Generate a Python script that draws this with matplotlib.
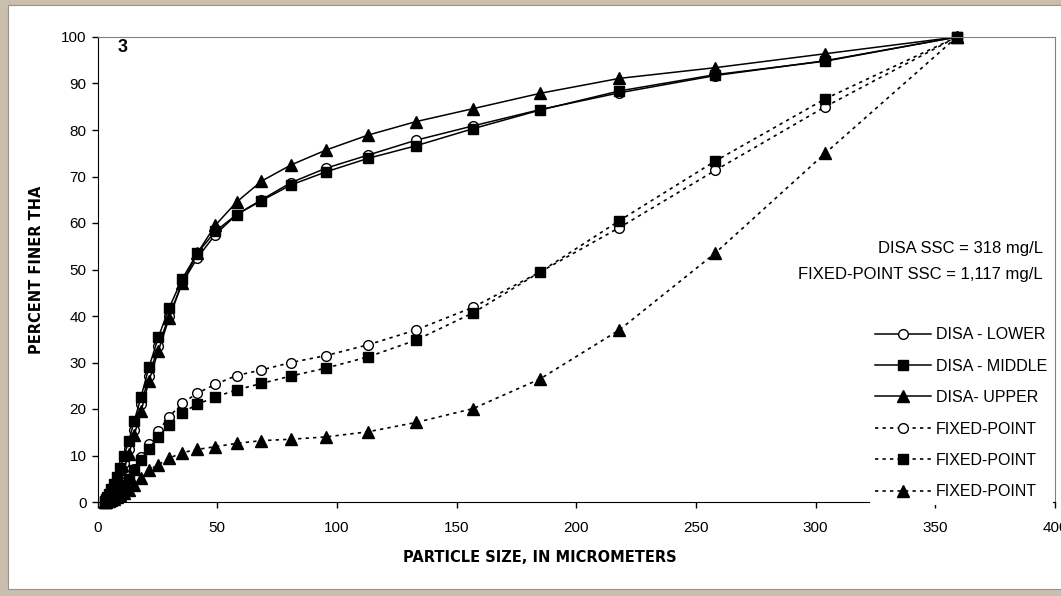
import matplotlib.pyplot as plt
from matplotlib.patches import Rectangle

plt.rcParams["font.family"] = ["Liberation Sans", "DejaVu Sans"]

# particle size bins, micrometers
sizes = [2.95, 3.48, 4.11, 4.85, 5.72, 6.75, 7.97, 9.40, 11.1, 13.1,
         15.4, 18.2, 21.5, 25.4, 29.9, 35.3, 41.7, 49.2, 58.1, 68.5,
         80.9, 95.5, 113, 133, 157, 185, 218, 258, 304, 359]

disa_lower = [0.2, 0.4, 0.8, 1.3, 2.0, 3.0, 4.3, 6.0, 8.4, 11.5,
              15.5, 21.0, 27.0, 33.5, 40.0, 47.0, 52.5, 57.5, 61.8, 65.0,
              68.7, 71.8, 74.6, 77.8, 80.9, 84.4, 88.0, 91.7, 94.9, 100]
disa_middle = [0.3, 0.6, 1.1, 1.8, 2.7, 3.9, 5.4, 7.3, 9.9, 13.2,
               17.5, 22.6, 29.0, 35.4, 41.7, 47.9, 53.5, 58.2, 61.8, 64.8,
               68.2, 71.0, 73.9, 76.6, 80.3, 84.3, 88.4, 91.9, 94.8, 100]
disa_upper = [0.1, 0.3, 0.6, 1.0, 1.6, 2.5, 3.6, 5.0, 7.2, 10.3,
              14.5, 19.5, 26.0, 32.5, 39.5, 47.0, 53.5, 59.5, 64.5, 69.0,
              72.5, 75.7, 78.9, 81.8, 84.6, 87.9, 91.1, 93.4, 96.4, 100]

fixed_lower = [0.1, 0.2, 0.4, 0.6, 0.9, 1.4, 2.0, 2.9, 4.0, 5.5,
               7.2, 9.7, 12.5, 15.3, 18.3, 21.2, 23.4, 25.3, 27.2, 28.4,
               30.0, 31.5, 33.8, 37.0, 41.9, 49.5, 59.0, 71.3, 85.0, 100]
fixed_middle = [0.1, 0.2, 0.4, 0.6, 0.9, 1.3, 1.9, 2.7, 3.7, 5.0,
                6.8, 9.0, 11.5, 14.0, 16.6, 19.2, 21.0, 22.6, 24.1, 25.5,
                27.1, 28.8, 31.2, 34.8, 40.7, 49.5, 60.5, 73.3, 86.7, 100]
fixed_upper = [0.1, 0.1, 0.2, 0.3, 0.5, 0.7, 1.0, 1.4, 1.9, 2.6,
               3.6, 5.1, 6.9, 8.0, 9.4, 10.6, 11.3, 11.9, 12.6, 13.2,
               13.5, 14.0, 15.1, 17.1, 20.1, 26.5, 37.0, 53.5, 75.0, 100]

x_ticks = [0, 50, 100, 150, 200, 250, 300, 350, 400]
y_ticks = [0, 10, 20, 30, 40, 50, 60, 70, 80, 90, 100]

series = [
    ("DISA - LOWER", disa_lower, "o", "white", "-"),
    ("DISA - MIDDLE", disa_middle, "s", "black", "-"),
    ("DISA- UPPER", disa_upper, "^", "black", "-"),
    ("FIXED-POINT", fixed_lower, "o", "white", (0, (2, 2.5))),
    ("FIXED-POINT", fixed_middle, "s", "black", (0, (2, 2.5))),
    ("FIXED-POINT", fixed_upper, "^", "black", (0, (2, 2.5))),
]

fig = plt.figure(figsize=(10.61, 5.96), dpi=100)
fig.patch.set_facecolor("#CABFAE")
W, H = 1061, 596
fig.patches.append(Rectangle((8 / W, 1 - 589 / H), 1, (589 - 5) / H,
                             transform=fig.transFigure, facecolor="white",
                             edgecolor="#9A9288", linewidth=0.8, zorder=-10))

ax = fig.add_axes([97.5 / W, 1 - 502 / H, (1055 - 97.5) / W, (502 - 37) / H])
ax.set_facecolor("white")
ax.set_zorder(1)

for label, vals, mk, face, ls in series:
    ms = 8.5 if mk == "^" else 7
    lw = 1.1 if ls == "-" else 1.2
    ax.plot(sizes, vals, linestyle=ls, color="black", linewidth=lw,
            marker=mk, markersize=ms, markerfacecolor=face,
            markeredgecolor="black", markeredgewidth=1.0, label=label,
            clip_on=False)

ax.set_xlim(0, 400)
ax.set_ylim(0, 100)
ax.set_xticks(x_ticks)
ax.set_yticks(y_ticks)
ax.tick_params(axis="both", labelsize=11, length=4, width=1, direction="out",
               color="black")
ax.tick_params(axis="x", pad=10)
ax.tick_params(axis="y", pad=4)

for side in ("top", "right"):
    ax.spines[side].set_color("#808080")
for side in ("left", "bottom"):
    ax.spines[side].set_color("black")

title_font = dict(family="DejaVu Sans", fontsize=10.5, fontweight="bold")
fig.text(37 / W, 1 - 270 / H, "PERCENT FINER THA", rotation=90,
         ha="center", va="center", **title_font)
fig.text(540 / W, 1 - 557 / H, "PARTICLE SIZE, IN MICROMETERS",
         ha="center", va="center", **title_font)

ax.text(123 / W, 1 - 47 / H, "3", transform=fig.transFigure, ha="center",
        va="center", fontsize=13, fontweight="bold")
ax.text(1043 / W, 1 - 248 / H, "DISA SSC = 318 mg/L", ha="right",
        va="center", fontsize=12, transform=fig.transFigure)
ax.text(1043 / W, 1 - 274 / H, "FIXED-POINT SSC = 1,117 mg/L", ha="right",
        va="center", fontsize=12, transform=fig.transFigure)

leg = ax.legend(loc="lower right", bbox_to_anchor=(1053 / W, 1 - 505 / H),
                bbox_transform=fig.transFigure, frameon=True, fancybox=False,
                fontsize=11.5, handlelength=3.5, handletextpad=0.3,
                labelspacing=1.03, borderpad=0.35, borderaxespad=0)
leg.get_frame().set_facecolor("white")
leg.get_frame().set_edgecolor("none")
leg.get_frame().set_alpha(1)

fig.savefig("out.png", dpi=100, facecolor=fig.get_facecolor())
